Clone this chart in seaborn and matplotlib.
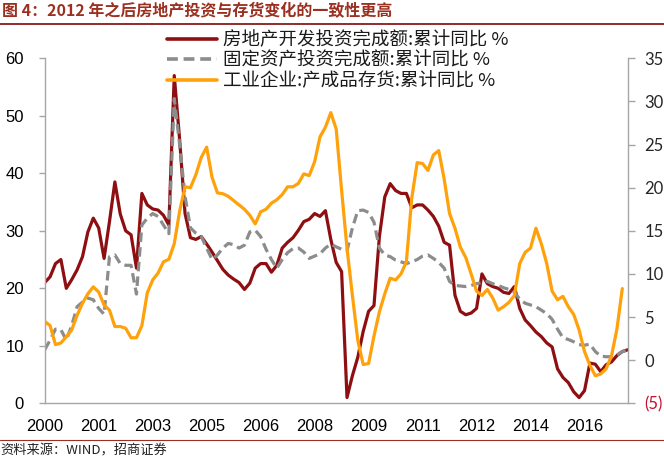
import numpy as np
import pandas as pd
import matplotlib
matplotlib.use("Agg")
import matplotlib.pyplot as plt
import seaborn as sns
from matplotlib.lines import Line2D
from matplotlib.font_manager import FontProperties

# ---------------- data (one value every 2 months) ----------------
title = "图 4：2012 年之后房地产投资与存货变化的一致性更高"
source = "资料来源：WIND，招商证券"
series_names = [
    "房地产开发投资完成额:累计同比 %",
    "固定资产投资完成额:累计同比 %",
    "工业企业:产成品存货:累计同比 %",
]
x_tick_labels = ["2000", "2001", "2003", "2005", "2006", "2008",
                 "2009", "2011", "2012", "2014", "2016"]
left_ticks = [0, 10, 20, 30, 40, 50, 60]
right_ticks = [-5, 0, 5, 10, 15, 20, 25, 30, 35]
right_tick_labels = ["(5)", "0", "5", "10", "15", "20", "25", "30", "35"]

real_estate = [
    21.0, 22.0, 24.3, 25.0, 20.0, 21.5, 23.2, 25.5, 29.8, 32.2,
    30.5, 25.2, 31.6, 38.5, 32.9, 30.0, 29.3, 23.5, 36.5, 34.5,
    33.8, 33.6, 32.7, 31.0, 57.0, 45.8, 33.0, 28.8, 28.5, 29.0,
    27.7, 26.3, 24.8, 23.3, 22.3, 21.6, 21.0, 19.8, 20.9, 23.5,
    24.3, 24.3, 22.8, 24.0, 27.0, 28.0, 28.8, 30.1, 31.6, 32.0,
    33.0, 32.5, 33.5, 28.5, 24.5, 22.9, 1.0, 4.8, 8.0, 12.5,
    16.0, 17.0, 29.0, 35.9, 38.2, 37.0, 36.5, 36.5, 34.0, 34.5,
    34.5, 33.6, 32.5, 30.8, 28.0, 27.5, 18.8, 16.0, 15.4, 15.7,
    16.5, 22.5, 20.8, 20.3, 20.0, 19.3, 19.1, 20.3, 16.5, 14.5,
    13.5, 12.4, 11.6, 10.5, 9.8, 6.0, 4.5, 3.6, 2.0, 1.0,
    2.2, 7.0, 6.8, 5.5, 6.7, 7.2, 8.3, 9.0, 9.3,
]
fixed_asset = [
    9.3, 11.0, 12.9, 12.8, 11.0, 13.5, 16.8, 17.6, 18.3, 18.0,
    16.5, 15.5, 25.5, 25.8, 24.3, 24.0, 24.0, 19.0, 31.0, 32.2,
    33.0, 32.5, 31.0, 29.5, 53.0, 45.0, 36.0, 30.5, 29.6, 29.0,
    27.0, 25.0, 25.8, 27.0, 27.8, 27.6, 27.0, 27.5, 29.8, 30.1,
    29.0, 26.8, 25.0, 23.5, 25.0, 26.2, 26.9, 27.0, 26.3, 25.2,
    25.6, 26.0, 27.0, 27.7, 27.2, 26.8, 26.5, 30.5, 33.5, 33.6,
    33.2, 31.5, 27.0, 25.8, 25.5, 24.9, 24.6, 24.3, 24.6, 25.0,
    25.6, 25.8, 25.2, 24.5, 23.5, 21.2, 20.5, 20.4, 20.3, 20.5,
    20.8, 21.0, 21.2, 20.8, 20.5, 20.1, 19.8, 19.3, 18.1, 17.4,
    17.1, 16.8, 16.2, 15.6, 14.6, 12.9, 11.4, 11.1, 10.7, 10.2,
    10.1, 10.3, 9.0, 8.2, 8.1, 8.1, 8.4, 9.0, 9.3,
]
inventory = [
    4.5, 4.0, 1.8, 2.0, 2.7, 3.5, 5.2, 6.6, 7.7, 8.5,
    7.9, 6.4, 5.8, 3.9, 3.9, 3.7, 2.6, 2.6, 4.0, 7.8,
    9.3, 10.1, 11.4, 11.7, 13.5, 17.3, 20.1, 20.0, 21.5, 23.5,
    24.7, 21.2, 19.4, 19.3, 19.0, 18.5, 18.0, 17.5, 16.8, 15.8,
    17.2, 17.5, 18.2, 18.6, 19.2, 20.1, 20.1, 20.5, 21.6, 21.4,
    23.0, 25.9, 27.0, 28.7, 26.8, 19.7, 13.0, 7.5, 2.3, -0.5,
    -0.4, 2.8, 5.6, 7.7, 9.5, 9.3, 10.0, 11.4, 18.8, 22.9,
    22.8, 22.0, 23.8, 24.3, 21.0, 17.0, 15.3, 13.1, 11.9, 10.0,
    8.0, 7.5, 8.2, 7.2, 5.8, 6.2, 6.7, 7.5, 11.2, 12.5,
    13.0, 15.3, 13.5, 11.2, 8.0, 7.0, 7.4, 6.2, 5.3, 3.5,
    1.0, -0.6, -1.8, -1.6, -1.0, 0.5, 3.6, 8.3,
]

# ---------------- styling ----------------
RED = "#8E0F12"
GRAY = "#8C8C8C"
ORANGE = "#FFA10A"
AXIS_GRAY = "#A6A6A6"
TITLE_COLOR = "#9C3020"
STEP = 2          # months per sample
TICK_EVERY = 20   # months between category labels

sns.set_style("white")
plt.rcParams["font.family"] = ["Liberation Sans", "Noto Sans CJK SC", "DejaVu Sans"]

def frame(vals):
    return pd.DataFrame({"t": np.arange(len(vals)) * STEP, "v": vals})

W, H = 664, 459
fig = plt.figure(figsize=(W / 100, H / 100), dpi=100)
ax = fig.add_axes([44.7 / W, (H - 403.3) / H, 583 / W, 345 / H])
ax2 = ax.twinx()

sns.lineplot(data=frame(real_estate), x="t", y="v", ax=ax, color=RED,
             linewidth=2.3, legend=False)
sns.lineplot(data=frame(fixed_asset), x="t", y="v", ax=ax, color=GRAY,
             linewidth=2.3, linestyle=(0, (3, 1.6)), legend=False)
sns.lineplot(data=frame(inventory), x="t", y="v", ax=ax2, color=ORANGE,
             linewidth=2.3, legend=False)

# axes
ax.set_xlim(0, 216)
ax.set_ylim(0, 60)
ax2.set_ylim(-5, 35)
for a in (ax, ax2):
    a.set_xlabel("")
    a.set_ylabel("")
    a.grid(False)

ax.set_xticks(np.arange(len(x_tick_labels)) * TICK_EVERY)
ax.set_xticklabels(x_tick_labels)
ax.set_yticks(left_ticks)
ax.set_yticklabels([str(v) for v in left_ticks])
ax.tick_params(axis="x", direction="out", length=5, width=1, color=AXIS_GRAY,
               labelsize=12, pad=6, labelcolor="black")
ax.tick_params(axis="y", direction="out", length=4, width=1, color=AXIS_GRAY,
               labelsize=12, pad=11, labelcolor="black")

ax2.set_yticks(right_ticks)
ax2.set_yticklabels(right_tick_labels, fontfamily="Lato", fontsize=12)
ax2.tick_params(axis="y", direction="out", length=5, width=1, color=AXIS_GRAY, pad=7)
for lab, v in zip(ax2.get_yticklabels(), right_ticks):
    lab.set_color("#C8102E" if v < 0 else "#262626")

for s in ("top", "right"):
    ax.spines[s].set_visible(False)
for s in ("left", "bottom"):
    ax.spines[s].set_color(AXIS_GRAY)
    ax.spines[s].set_linewidth(1)
for s in ("top", "left", "bottom"):
    ax2.spines[s].set_visible(False)
ax2.spines["right"].set_color(AXIS_GRAY)
ax2.spines["right"].set_linewidth(1)

# legend
handles = [
    Line2D([], [], color=RED, linewidth=2.6),
    Line2D([], [], color=GRAY, linewidth=2.6, linestyle=(0, (3, 1.6))),
    Line2D([], [], color=ORANGE, linewidth=2.6),
]
leg = fig.legend(handles, series_names, loc="upper left",
                 bbox_to_anchor=(167 / W, 1 - 31 / H), frameon=False,
                 prop=FontProperties(family=["Noto Sans CJK SC", "DejaVu Sans"], size=13.3),
                 handlelength=2.7, handletextpad=0.35, labelspacing=0.14,
                 borderpad=0, borderaxespad=0)
for t in leg.get_texts():
    t.set_color("#1a1a1a")

# title, rules and source
fig.text(2 / W, 1 - 11 / H, title, fontsize=11.5, fontweight="bold",
         color=TITLE_COLOR, family=["Noto Sans CJK SC", "DejaVu Sans"],
         ha="left", va="center")
fig.add_artist(Line2D([0, 1], [1 - 24 / H] * 2, color="#8B1A1A", linewidth=1.3,
                      transform=fig.transFigure))
fig.add_artist(Line2D([0, 1], [1 - 440 / H] * 2, color="#9C3020", linewidth=0.8,
                      transform=fig.transFigure))
fig.text(0 / W, 1 - 451 / H, source, fontsize=9.5, color="#222222",
         family=["Noto Sans CJK SC", "DejaVu Sans"], ha="left", va="center")

fig.savefig("out.png", dpi=100)
